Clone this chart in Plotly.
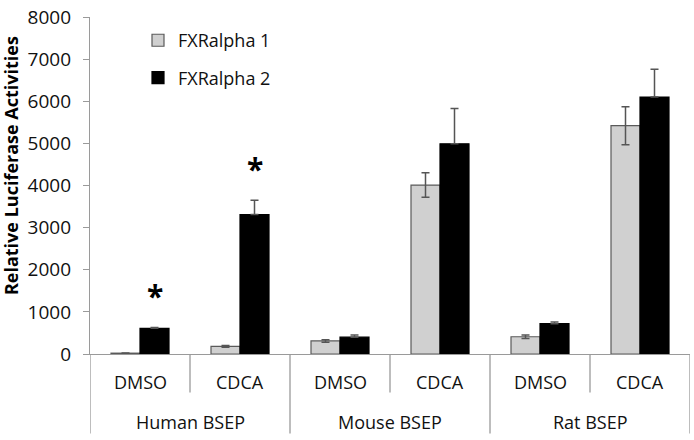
import plotly.graph_objects as go

groups = ["Human BSEP", "Mouse BSEP", "Rat BSEP"]
treatments = ["DMSO", "CDCA", "DMSO", "CDCA", "DMSO", "CDCA"]
series_names = ["FXRalpha 1", "FXRalpha 2"]
fxr1 = [20, 180, 310, 4010, 410, 5420]
fxr1_err = [5, 20, 30, 290, 40, 450]
fxr2 = [610, 3310, 400, 4990, 720, 6100]
fxr2_err = [20, 340, 50, 840, 40, 660]
significant = [True, True, False, False, False, False]
y_ticks = [0, 1000, 2000, 3000, 4000, 5000, 6000, 7000, 8000]

FONT = "Open Sans"
x = list(range(len(treatments)))

fig = go.Figure()
fig.add_trace(go.Bar(
    x=x, y=fxr1, name=series_names[0], legendgroup="a",
    marker=dict(color="#d0d0d0", line=dict(color="#5a5a5a", width=1.2)),
    error_y=dict(type="data", array=fxr1_err, visible=True, color="#555555", thickness=1.5, width=4),
))
fig.add_trace(go.Bar(
    x=x, y=fxr2, name=series_names[1], legendgroup="b",
    marker=dict(color="#000000", line=dict(color="#000000", width=1.2)),
    error_y=dict(type="data", array=fxr2_err, arrayminus=[0]*len(fxr2), symmetric=False,
                 visible=True, color="#555555", thickness=1.5, width=4),
))

annotations = []
shapes = []
# significance stars above FXRalpha 2 bars
for i, sig in enumerate(significant):
    if sig:
        annotations.append(dict(x=i + 0.145, y=fxr2[i] + fxr2_err[i], xref="x", yref="y",
                                text="<b>*</b>", showarrow=False, yanchor="bottom",
                                yshift=9, font=dict(family=FONT, size=30, color="#000")))
# treatment labels
for i, t in enumerate(treatments):
    annotations.append(dict(x=i, y=0, xref="x", yref="paper", text=t, showarrow=False,
                            yanchor="middle", yshift=-28, font=dict(family=FONT, size=18, color="#111")))
# group labels
for g, name in enumerate(groups):
    annotations.append(dict(x=2 * g + 0.5, y=0, xref="x", yref="paper", text=name, showarrow=False,
                            yanchor="middle", yshift=-68, font=dict(family=FONT, size=18, color="#111")))
# separators
for b in range(len(treatments) + 1):
    is_group = (b % 2 == 0)
    shapes.append(dict(type="line", xref="x", yref="paper", x0=b - 0.5, x1=b - 0.5,
                       y0=0, y1=(-0.236 if is_group else -0.114),
                       line=dict(color="#9a9a9a", width=1.3)))
# y-axis title
annotations.append(dict(x=-0.132, y=0.56, xref="paper", yref="paper",
                        text="<b>Relative Luciferase Activities</b>",
                        textangle=-90, showarrow=False, xanchor="center", yanchor="middle",
                        font=dict(family=FONT, size=18, color="#000")))

fig.update_layout(
    width=694, height=440,
    margin=dict(l=90, r=4, t=11, b=86),
    paper_bgcolor="white", plot_bgcolor="white",
    barmode="group", bargap=0.42, bargroupgap=0,
    showlegend=True,
    legend=dict(x=0.08, y=0.985, xanchor="left", yanchor="top", bgcolor="rgba(0,0,0,0)",
                font=dict(family=FONT, size=18, color="#111"), tracegroupgap=11,
                traceorder="grouped"),
    xaxis=dict(range=[-0.5, 5.5], showticklabels=False, ticks="", showgrid=False, zeroline=False,
               showline=True, linecolor="#9a9a9a", linewidth=1.3),
    yaxis=dict(range=[0, 8000], tickvals=y_ticks, ticktext=[str(v) for v in y_ticks],
               showgrid=False, zeroline=False, showline=True, linecolor="#9a9a9a", linewidth=1.3,
               ticks="outside", ticklen=6, tickcolor="#9a9a9a", ticklabeloverflow="allow",
               ticklabelstandoff=8,
               tickfont=dict(family=FONT, size=19, color="#111")),
    annotations=annotations, shapes=shapes,
)

fig.write_html("out.html", config={"displayModeBar": False},
               post_script="document.body.style.margin='0';")
